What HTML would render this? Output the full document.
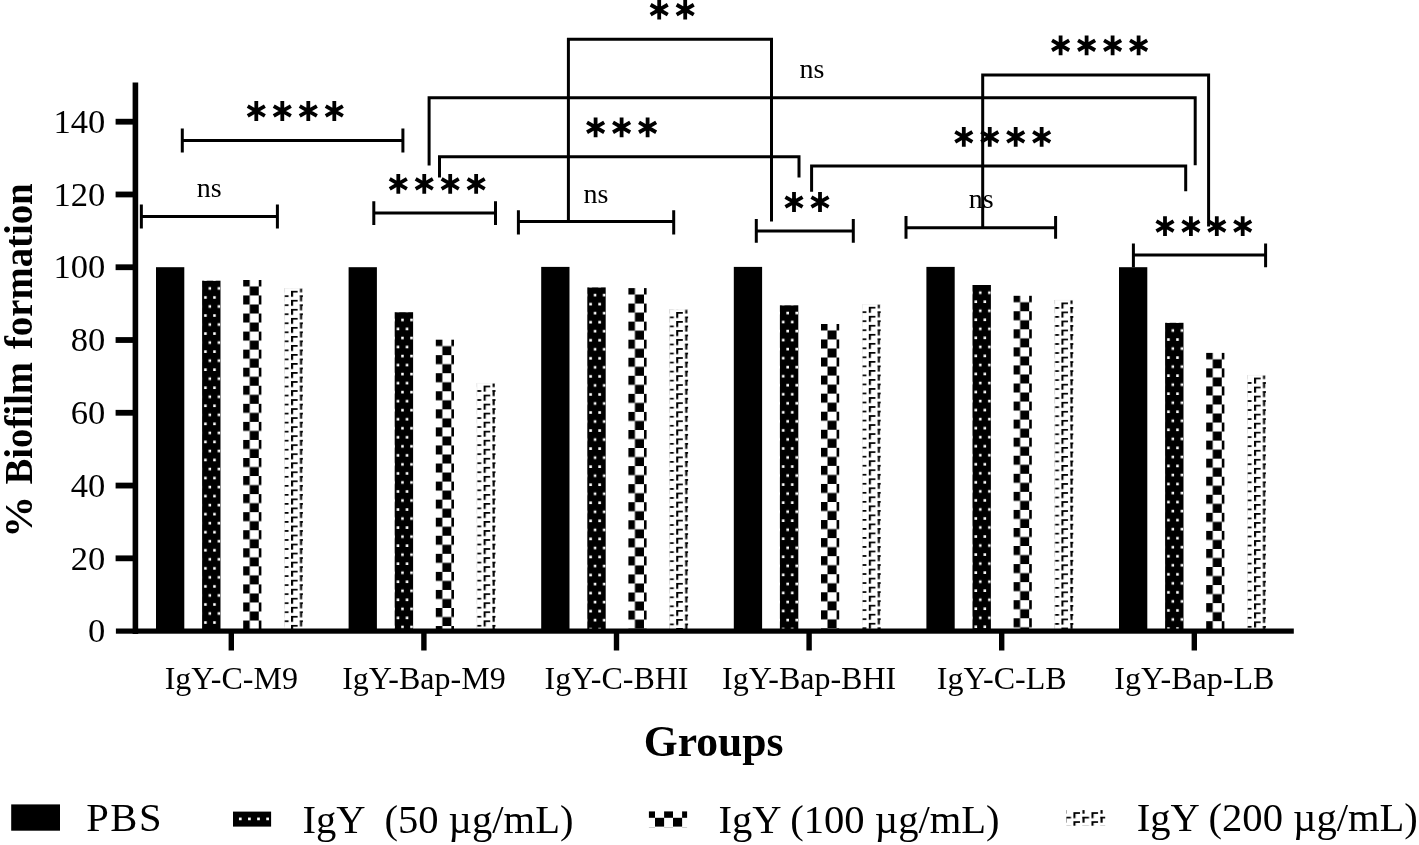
<!DOCTYPE html><html><head><meta charset="utf-8"><style>html,body{margin:0;padding:0;background:#fff;overflow:hidden;}svg{display:block;will-change:transform;}text{font-family:"Liberation Serif",serif;fill:#000;}</style></head><body>
<svg width="1419" height="845" viewBox="0 0 1419 845">
<rect width="1419" height="845" fill="#fff"/>
<defs>
<pattern id="p50" patternUnits="userSpaceOnUse" patternTransform="scale(1.0033)" width="9" height="18"><rect width="9" height="18" fill="#000"/><rect x="6.5" y="6.4" width="2.6" height="2.6" fill="#fff"/><rect x="2.0" y="15.4" width="2.6" height="2.6" fill="#fff"/></pattern>
<pattern id="p100" patternUnits="userSpaceOnUse" patternTransform="scale(1.0033)" width="18.0" height="18.0"><rect width="18.0" height="18.0" fill="#fff"/><rect x="0" y="0" width="9.0" height="9.0" fill="#000"/><rect x="9.0" y="9.0" width="9.0" height="9.0" fill="#000"/></pattern>
<pattern id="p200" patternUnits="userSpaceOnUse" patternTransform="scale(1.0033)" width="18" height="9"><rect width="18" height="9" fill="#fff"/><rect x="0" y="0" width="2.1" height="6" fill="#000"/><rect x="0" y="0" width="6.6" height="1.7" fill="#000"/><rect x="9" y="4.5" width="2.1" height="6" fill="#000"/><rect x="9" y="4.5" width="6.6" height="1.7" fill="#000"/><rect x="9" y="-4.5" width="2.1" height="6" fill="#000"/><rect x="9" y="-4.5" width="6.6" height="1.7" fill="#000"/></pattern>
</defs>
<rect x="156.00" y="267.20" width="28.3" height="362.40" fill="#000"/>
<g transform="translate(202.10,280.70)"><rect x="0" y="0" width="18.4" height="348.90" fill="url(#p50)"/></g>
<g transform="translate(240.70,277.40)"><rect x="2.5" y="2.6" width="18.2" height="349.60" fill="url(#p100)"/></g>
<g transform="translate(291.00,290.80)"><rect x="-6.7" y="-2.5" width="18.6" height="341.30" fill="url(#p200)"/></g>
<path d="M284.60,628.60V288.60H302.90" fill="none" stroke="#eee" stroke-width="0.6"/>
<rect x="348.60" y="267.20" width="28.3" height="362.40" fill="#000"/>
<g transform="translate(394.70,312.20)"><rect x="0" y="0" width="18.4" height="317.40" fill="url(#p50)"/></g>
<g transform="translate(433.30,337.10)"><rect x="2.5" y="2.6" width="18.2" height="289.90" fill="url(#p100)"/></g>
<g transform="translate(483.60,385.60)"><rect x="-6.7" y="-2.5" width="18.6" height="246.50" fill="url(#p200)"/></g>
<path d="M477.20,628.60V383.40H495.50" fill="none" stroke="#eee" stroke-width="0.6"/>
<rect x="541.20" y="266.90" width="28.3" height="362.70" fill="#000"/>
<g transform="translate(587.30,287.40)"><rect x="0" y="0" width="18.4" height="342.20" fill="url(#p50)"/></g>
<g transform="translate(625.90,285.50)"><rect x="2.5" y="2.6" width="18.2" height="341.50" fill="url(#p100)"/></g>
<g transform="translate(676.20,312.00)"><rect x="-6.7" y="-2.5" width="18.6" height="320.10" fill="url(#p200)"/></g>
<path d="M669.80,628.60V309.80H688.10" fill="none" stroke="#eee" stroke-width="0.6"/>
<rect x="733.80" y="266.90" width="28.3" height="362.70" fill="#000"/>
<g transform="translate(779.90,305.30)"><rect x="0" y="0" width="18.4" height="324.30" fill="url(#p50)"/></g>
<g transform="translate(818.50,321.40)"><rect x="2.5" y="2.6" width="18.2" height="305.60" fill="url(#p100)"/></g>
<g transform="translate(868.80,306.80)"><rect x="-6.7" y="-2.5" width="18.6" height="325.30" fill="url(#p200)"/></g>
<path d="M862.40,628.60V304.60H880.70" fill="none" stroke="#eee" stroke-width="0.6"/>
<rect x="926.40" y="266.90" width="28.3" height="362.70" fill="#000"/>
<g transform="translate(972.50,285.00)"><rect x="0" y="0" width="18.4" height="344.60" fill="url(#p50)"/></g>
<g transform="translate(1011.10,293.20)"><rect x="2.5" y="2.6" width="18.2" height="333.80" fill="url(#p100)"/></g>
<g transform="translate(1061.40,302.50)"><rect x="-6.7" y="-2.5" width="18.6" height="329.60" fill="url(#p200)"/></g>
<path d="M1055.00,628.60V300.30H1073.30" fill="none" stroke="#eee" stroke-width="0.6"/>
<rect x="1119.00" y="267.20" width="28.3" height="362.40" fill="#000"/>
<g transform="translate(1165.10,322.80)"><rect x="0" y="0" width="18.4" height="306.80" fill="url(#p50)"/></g>
<g transform="translate(1203.70,350.30)"><rect x="2.5" y="2.6" width="18.2" height="276.70" fill="url(#p100)"/></g>
<g transform="translate(1254.00,377.60)"><rect x="-6.7" y="-2.5" width="18.6" height="254.50" fill="url(#p200)"/></g>
<path d="M1247.60,628.60V375.40H1265.90" fill="none" stroke="#eee" stroke-width="0.6"/>
<rect x="132.6" y="82.5" width="5.6" height="551.5" fill="#000"/>
<rect x="115.9" y="628.5" width="1177.8999999999999" height="5.2" fill="#000"/>
<text x="105.3" y="642.35" font-size="34.6" text-anchor="end">0</text>
<rect x="115.6" y="555.43" width="18" height="5.8" fill="#000"/>
<text x="105.3" y="569.58" font-size="34.6" text-anchor="end">20</text>
<rect x="115.6" y="482.66" width="18" height="5.8" fill="#000"/>
<text x="105.3" y="496.81" font-size="34.6" text-anchor="end">40</text>
<rect x="115.6" y="409.88" width="18" height="5.8" fill="#000"/>
<text x="105.3" y="424.03" font-size="34.6" text-anchor="end">60</text>
<rect x="115.6" y="337.11" width="18" height="5.8" fill="#000"/>
<text x="105.3" y="351.26" font-size="34.6" text-anchor="end">80</text>
<rect x="115.6" y="264.34" width="18" height="5.8" fill="#000"/>
<text x="105.3" y="278.49" font-size="34.6" text-anchor="end">100</text>
<rect x="115.6" y="191.57" width="18" height="5.8" fill="#000"/>
<text x="105.3" y="205.72" font-size="34.6" text-anchor="end">120</text>
<rect x="115.6" y="118.80" width="18" height="5.8" fill="#000"/>
<text x="105.3" y="132.95" font-size="34.6" text-anchor="end">140</text>
<rect x="228.60" y="633" width="5.4" height="17.5" fill="#000"/>
<text x="231.30" y="689.2" font-size="32" text-anchor="middle">IgY-C-M9</text>
<rect x="421.20" y="633" width="5.4" height="17.5" fill="#000"/>
<text x="423.90" y="689.2" font-size="32" text-anchor="middle">IgY-Bap-M9</text>
<rect x="613.80" y="633" width="5.4" height="17.5" fill="#000"/>
<text x="616.50" y="689.2" font-size="32" text-anchor="middle">IgY-C-BHI</text>
<rect x="806.40" y="633" width="5.4" height="17.5" fill="#000"/>
<text x="809.10" y="689.2" font-size="32" text-anchor="middle">IgY-Bap-BHI</text>
<rect x="999.00" y="633" width="5.4" height="17.5" fill="#000"/>
<text x="1001.70" y="689.2" font-size="32" text-anchor="middle">IgY-C-LB</text>
<rect x="1191.60" y="633" width="5.4" height="17.5" fill="#000"/>
<text x="1194.30" y="689.2" font-size="32" text-anchor="middle">IgY-Bap-LB</text>
<text x="713.6" y="756.1" font-size="43.6" font-weight="bold" text-anchor="middle">Groups</text>
<text transform="translate(32.3,516.9) rotate(-90) scale(1.06,1)" font-size="39.5" font-weight="bold" text-anchor="middle">%</text>
<text transform="translate(32.3,423.25) rotate(-90) scale(0.978,1)" font-size="39.5" font-weight="bold" text-anchor="middle">Biofilm</text>
<text transform="translate(32.3,266.25) rotate(-90) scale(0.981,1)" font-size="39.5" font-weight="bold" text-anchor="middle">formation</text>
<path d="M141.35,204.5V228.5M277.4,204.5V228.5M141.35,216.4H277.4" fill="none" stroke="#000" stroke-width="3"/>
<path d="M182.3,128.4V152.5M402.9,128.4V152.5M182.3,140.5H402.9" fill="none" stroke="#000" stroke-width="3"/>
<path d="M373.8,201.2V224.9M495.5,201.2V224.9M373.8,213.0H495.5" fill="none" stroke="#000" stroke-width="3"/>
<path d="M518.4,210.3V234.4M673.7,210.3V234.4M518.4,221.5H673.7" fill="none" stroke="#000" stroke-width="3"/>
<path d="M756.3,219.1V242.8M853.3,219.1V242.8M756.3,230.9H853.3" fill="none" stroke="#000" stroke-width="3"/>
<path d="M906.0,216.0V238.8M1055.6,216.0V238.8M906.0,227.7H1055.6" fill="none" stroke="#000" stroke-width="3"/>
<path d="M1133.4,243.4V267.2M1265.6,243.4V267.2M1133.4,255.1H1265.6" fill="none" stroke="#000" stroke-width="3"/>
<path d="M568.4,221.3V39.3H771.5V221.5" fill="none" stroke="#000" stroke-width="3" stroke-linejoin="miter" stroke-linecap="butt"/>
<path d="M429.1,165.6V97.8H1195.2V165.3" fill="none" stroke="#000" stroke-width="3" stroke-linejoin="miter" stroke-linecap="butt"/>
<path d="M439.5,177.6V156.7H799.0V177.6" fill="none" stroke="#000" stroke-width="3" stroke-linejoin="miter" stroke-linecap="butt"/>
<path d="M811.6,191.8V166.0H1185.7V191.3" fill="none" stroke="#000" stroke-width="3" stroke-linejoin="miter" stroke-linecap="butt"/>
<path d="M982.7,227.7V74.9H1208.6V226.5" fill="none" stroke="#000" stroke-width="3" stroke-linejoin="miter" stroke-linecap="butt"/>
<path d="M256.30,101.10V120.90M247.73,106.05L264.87,115.95M247.73,115.95L264.87,106.05" stroke="#000" stroke-width="3.8" fill="none"/>
<path d="M282.30,101.10V120.90M273.73,106.05L290.87,115.95M273.73,115.95L290.87,106.05" stroke="#000" stroke-width="3.8" fill="none"/>
<path d="M308.30,101.10V120.90M299.73,106.05L316.87,115.95M299.73,115.95L316.87,106.05" stroke="#000" stroke-width="3.8" fill="none"/>
<path d="M334.30,101.10V120.90M325.73,106.05L342.87,115.95M325.73,115.95L342.87,106.05" stroke="#000" stroke-width="3.8" fill="none"/>
<path d="M398.30,174.00V193.80M389.73,178.95L406.87,188.85M389.73,188.85L406.87,178.95" stroke="#000" stroke-width="3.8" fill="none"/>
<path d="M424.25,174.00V193.80M415.68,178.95L432.82,188.85M415.68,188.85L432.82,178.95" stroke="#000" stroke-width="3.8" fill="none"/>
<path d="M450.20,174.00V193.80M441.63,178.95L458.77,188.85M441.63,188.85L458.77,178.95" stroke="#000" stroke-width="3.8" fill="none"/>
<path d="M476.15,174.00V193.80M467.58,178.95L484.72,188.85M467.58,188.85L484.72,178.95" stroke="#000" stroke-width="3.8" fill="none"/>
<path d="M659.20,-0.20V19.60M650.63,4.75L667.77,14.65M650.63,14.65L667.77,4.75" stroke="#000" stroke-width="3.8" fill="none"/>
<path d="M685.20,-0.20V19.60M676.63,4.75L693.77,14.65M676.63,14.65L693.77,4.75" stroke="#000" stroke-width="3.8" fill="none"/>
<path d="M595.60,117.40V137.20M587.03,122.35L604.17,132.25M587.03,132.25L604.17,122.35" stroke="#000" stroke-width="3.8" fill="none"/>
<path d="M621.60,117.40V137.20M613.03,122.35L630.17,132.25M613.03,132.25L630.17,122.35" stroke="#000" stroke-width="3.8" fill="none"/>
<path d="M647.60,117.40V137.20M639.03,122.35L656.17,132.25M639.03,132.25L656.17,122.35" stroke="#000" stroke-width="3.8" fill="none"/>
<path d="M794.00,192.10V211.90M785.43,197.05L802.57,206.95M785.43,206.95L802.57,197.05" stroke="#000" stroke-width="3.8" fill="none"/>
<path d="M820.00,192.10V211.90M811.43,197.05L828.57,206.95M811.43,206.95L828.57,197.05" stroke="#000" stroke-width="3.8" fill="none"/>
<path d="M1060.60,35.40V55.20M1052.03,40.35L1069.17,50.25M1052.03,50.25L1069.17,40.35" stroke="#000" stroke-width="3.8" fill="none"/>
<path d="M1086.60,35.40V55.20M1078.03,40.35L1095.17,50.25M1078.03,50.25L1095.17,40.35" stroke="#000" stroke-width="3.8" fill="none"/>
<path d="M1112.60,35.40V55.20M1104.03,40.35L1121.17,50.25M1104.03,50.25L1121.17,40.35" stroke="#000" stroke-width="3.8" fill="none"/>
<path d="M1138.60,35.40V55.20M1130.03,40.35L1147.17,50.25M1130.03,50.25L1147.17,40.35" stroke="#000" stroke-width="3.8" fill="none"/>
<path d="M963.80,127.00V146.80M955.23,131.95L972.37,141.85M955.23,141.85L972.37,131.95" stroke="#000" stroke-width="3.8" fill="none"/>
<path d="M989.75,127.00V146.80M981.18,131.95L998.32,141.85M981.18,141.85L998.32,131.95" stroke="#000" stroke-width="3.8" fill="none"/>
<path d="M1015.70,127.00V146.80M1007.13,131.95L1024.27,141.85M1007.13,141.85L1024.27,131.95" stroke="#000" stroke-width="3.8" fill="none"/>
<path d="M1041.65,127.00V146.80M1033.08,131.95L1050.22,141.85M1033.08,141.85L1050.22,131.95" stroke="#000" stroke-width="3.8" fill="none"/>
<path d="M1165.00,216.20V236.00M1156.43,221.15L1173.57,231.05M1156.43,231.05L1173.57,221.15" stroke="#000" stroke-width="3.8" fill="none"/>
<path d="M1190.90,216.20V236.00M1182.33,221.15L1199.47,231.05M1182.33,231.05L1199.47,221.15" stroke="#000" stroke-width="3.8" fill="none"/>
<path d="M1216.80,216.20V236.00M1208.23,221.15L1225.37,231.05M1208.23,231.05L1225.37,221.15" stroke="#000" stroke-width="3.8" fill="none"/>
<path d="M1242.70,216.20V236.00M1234.13,221.15L1251.27,231.05M1234.13,231.05L1251.27,221.15" stroke="#000" stroke-width="3.8" fill="none"/>
<text x="209.2" y="196.9" font-size="28" text-anchor="middle">ns</text>
<text x="595.9" y="203.2" font-size="28" text-anchor="middle">ns</text>
<text x="981.2" y="207.9" font-size="28" text-anchor="middle">ns</text>
<text x="811.9" y="77.8" font-size="28" text-anchor="middle">ns</text>
<rect x="11.2" y="804.4" width="48.8" height="26.3" fill="#000"/>
<text x="86.3" y="830.9" font-size="40.6" letter-spacing="1.5">PBS</text>
<rect x="233" y="811.6" width="38.1" height="15" fill="#000"/>
<rect x="238.95" y="817.55" width="2.7" height="2.7" fill="#fff"/>
<rect x="248.05" y="817.55" width="2.7" height="2.7" fill="#fff"/>
<rect x="257.15" y="817.55" width="2.7" height="2.7" fill="#fff"/>
<rect x="266.25" y="817.55" width="2.7" height="2.7" fill="#fff"/>
<text x="302.5" y="833" font-size="40.6" xml:space="preserve">IgY  (50 µg/mL)</text>
<rect x="648.9" y="811.4" width="6.1" height="6.4" fill="#000"/>
<rect x="648.9" y="827.1" width="6.1" height="0.7" fill="#bbb"/>
<rect x="664.1" y="811.4" width="8.9" height="6.4" fill="#000"/>
<rect x="664.1" y="827.1" width="8.9" height="0.7" fill="#bbb"/>
<rect x="682.1" y="811.4" width="5.0" height="6.4" fill="#000"/>
<rect x="682.1" y="827.1" width="5.0" height="0.7" fill="#bbb"/>
<rect x="655.0" y="817.8" width="9.1" height="8.8" fill="#000"/>
<rect x="673.0" y="817.8" width="9.1" height="8.8" fill="#000"/>
<text x="718.5" y="833.3" font-size="40.6">IgY (100 µg/mL)</text>
<g transform="translate(1073.4,812.2)"><rect x="-7.0" y="-2.1" width="38.8" height="15.6" fill="url(#p200)"/></g>
<text x="1136.8" y="831.2" font-size="40.6">IgY (200 µg/mL)</text>
</svg></body></html>
